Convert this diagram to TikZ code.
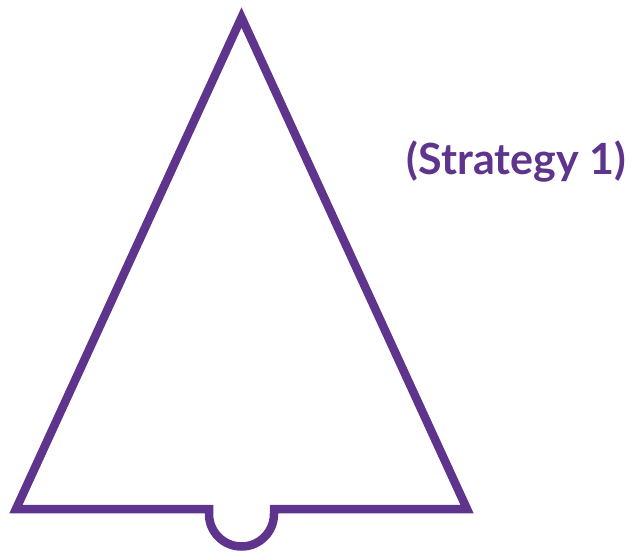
\documentclass[tikz,border=0pt]{standalone}
\usepackage{fontspec}
\setmainfont{Lato}
\definecolor{strat}{RGB}{94,52,140}
\begin{document}
\begin{tikzpicture}[x=1pt,y=-1pt,
  outline/.style={draw=strat,line width=8.5pt,line join=miter,miter limit=10},
  label/.style={text=strat,font=\fontsize{43}{50}\selectfont\bfseries,inner sep=0pt,anchor=base}]
\useasboundingbox (0,0) rectangle (632,554);
\coordinate (apex) at (241.5,17.5);
\coordinate (bl) at (16,509);
\coordinate (br) at (467,509);
\coordinate (nl) at (209,509);
\coordinate (nr) at (274,509);
\draw[outline] (apex) -- (br) -- (nr) -- ++(0,5) arc[start angle=0,end angle=180,radius=32.5] -- (nl) -- (bl) -- cycle;
\node[label] (t) at (516.5,174.5) {(Strategy 1)};
\end{tikzpicture}
\end{document}
